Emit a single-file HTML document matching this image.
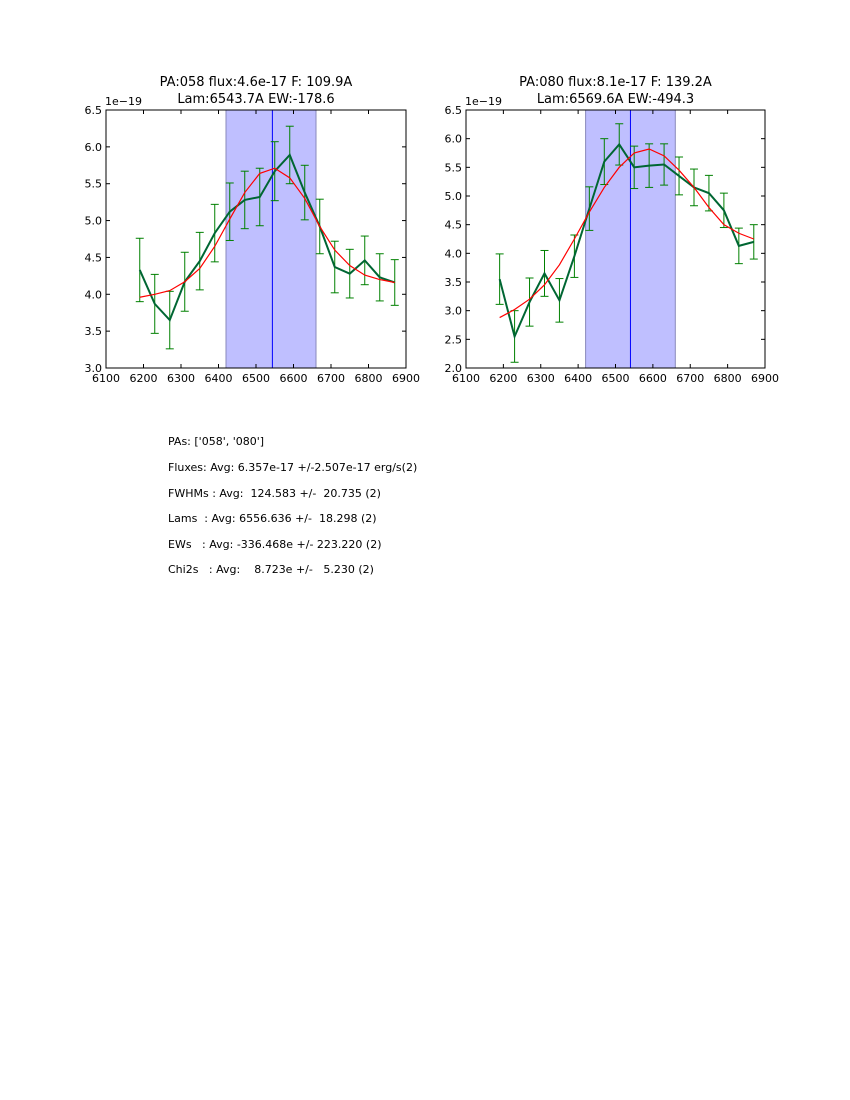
<!DOCTYPE html>
<html><head><meta charset="utf-8"><style>
body{margin:0;background:#fff;}
svg{display:block;font-family:"DejaVu Sans","Liberation Sans",sans-serif;}
</style></head><body>
<svg id="s" width="850" height="1100" viewBox="0 0 850 1100">
<rect width="850" height="1100" fill="#fff"/>
<g id="txt" font-size="11" fill="#000">
<text x="168" y="445" xml:space="preserve">PAs: ['058', '080']</text>
<text x="168" y="471" xml:space="preserve">Fluxes: Avg: 6.357e-17 +/-2.507e-17 erg/s(2)</text>
<text x="168" y="497" xml:space="preserve">FWHMs : Avg:  124.583 +/-  20.735 (2)</text>
<text x="168" y="522" xml:space="preserve">Lams  : Avg: 6556.636 +/-  18.298 (2)</text>
<text x="168" y="548" xml:space="preserve">EWs   : Avg: -336.468e +/- 223.220 (2)</text>
<text x="168" y="573" xml:space="preserve">Chi2s   : Avg:    8.723e +/-   5.230 (2)</text>
</g>
</svg>
<script>
const xs = [6190,6230,6270,6310,6350,6390,6430,6470,6510,6550,6590,6630,6670,6710,6750,6790,6830,6870];
const p1Data = [4.33,3.87,3.65,4.17,4.45,4.83,5.12,5.28,5.32,5.67,5.89,5.38,4.92,4.37,4.28,4.46,4.23,4.16];
const p1Err = [0.43,0.40,0.39,0.40,0.39,0.39,0.39,0.39,0.39,0.40,0.39,0.37,0.37,0.35,0.33,0.33,0.32,0.31];
const p1Fit = [3.96,4.00,4.05,4.17,4.35,4.65,5.02,5.38,5.64,5.71,5.58,5.30,4.92,4.60,4.39,4.26,4.20,4.16];
const p2Data = [3.55,2.55,3.15,3.65,3.18,3.95,4.78,5.60,5.90,5.50,5.53,5.55,5.35,5.15,5.05,4.75,4.13,4.20];
const p2Err = [0.44,0.45,0.42,0.40,0.38,0.37,0.38,0.40,0.36,0.37,0.38,0.36,0.33,0.32,0.31,0.30,0.31,0.30];
const p2Fit = [2.88,3.02,3.20,3.45,3.80,4.25,4.72,5.15,5.50,5.75,5.82,5.70,5.45,5.15,4.80,4.50,4.35,4.25];
const xTicks = [6100,6200,6300,6400,6500,6600,6700,6800,6900];
const p1YTicks = [3.0,3.5,4.0,4.5,5.0,5.5,6.0,6.5];
const p2YTicks = [2.0,2.5,3.0,3.5,4.0,4.5,5.0,5.5,6.0,6.5];
const panels = [
 {name:'pa058',left:106,right:406,top:110,bottom:368,ymin:3.0,ymax:6.5,yt:p1YTicks,d:p1Data,e:p1Err,f:p1Fit,
  t1:'PA:058 flux:4.6e-17 F: 109.9A',t2:'Lam:6543.7A EW:-178.6',band:[6420,6660],line:6543.7},
 {name:'pa080',left:466,right:765,top:110,bottom:368,ymin:2.0,ymax:6.5,yt:p2YTicks,d:p2Data,e:p2Err,f:p2Fit,
  t1:'PA:080 flux:8.1e-17 F: 139.2A',t2:'Lam:6569.6A EW:-494.3',band:[6420,6660],line:6540}
];
const NS='http://www.w3.org/2000/svg';
const svg=document.getElementById('s');
function mk(tag,attrs,parent){const el=document.createElementNS(NS,tag);for(const k in attrs)el.setAttribute(k,attrs[k]);(parent||svg).appendChild(el);return el;}
panels.forEach(p=>{
 const g=mk('g',{});
 
 
 const X=v=>p.left+(v-6100)/800*(p.right-p.left);
 const Y=v=>p.bottom-(v-p.ymin)/(p.ymax-p.ymin)*(p.bottom-p.top);
 const band=mk('rect',{x:X(p.band[0]),y:p.top,width:X(p.band[1])-X(p.band[0]),height:p.bottom-p.top,fill:'#bfbfff',stroke:'#8888bb','stroke-width':1},g);
 
 
 const vl=mk('line',{x1:X(p.line),x2:X(p.line),y1:p.top,y2:p.bottom,stroke:'#0000ff','stroke-width':1},g);
 
 
 // error bars
 xs.forEach((x,i)=>{
  const eb=mk('g',{stroke:'#008000','stroke-width':1},g);
  
  
  const cx=X(x),y1=Y(p.d[i]+p.e[i]),y2=Y(p.d[i]-p.e[i]);
  mk('line',{x1:cx,x2:cx,y1:y1,y2:y2},eb);
  mk('line',{x1:cx-4,x2:cx+4,y1:y1,y2:y1},eb);
  mk('line',{x1:cx-4,x2:cx+4,y1:y2,y2:y2},eb);
 });
 const dl=mk('polyline',{points:xs.map((x,i)=>X(x)+','+Y(p.d[i])).join(' '),fill:'none',stroke:'#006633','stroke-width':2},g);
 
 
 const fl=mk('polyline',{points:xs.map((x,i)=>X(x)+','+Y(p.f[i])).join(' '),fill:'none',stroke:'#ff0000','stroke-width':1.2},g);
 
 
 const fr=mk('rect',{x:p.left,y:p.top,width:p.right-p.left,height:p.bottom-p.top,fill:'none',stroke:'#000','stroke-width':1},g);
 
 
 xTicks.forEach(t=>{
  const x=X(t);
  mk('line',{x1:x,x2:x,y1:p.bottom,y2:p.bottom-4,stroke:'#000'},g);
  mk('line',{x1:x,x2:x,y1:p.top,y2:p.top+4,stroke:'#000'},g);
  const tl=mk('text',{x:x,y:p.bottom+14,'font-size':11,'text-anchor':'middle'},g);
  tl.textContent=t;
  
  
 });
 p.yt.forEach(t=>{
  const y=Y(t);
  mk('line',{x1:p.left,x2:p.left+4,y1:y,y2:y,stroke:'#000'},g);
  mk('line',{x1:p.right,x2:p.right-4,y1:y,y2:y,stroke:'#000'},g);
  const tl=mk('text',{x:p.left-4,y:y+4,'font-size':11,'text-anchor':'end'},g);
  tl.textContent=t.toFixed(1);
  
  
 });
 const off=mk('text',{x:p.left-1,y:p.top-5,'font-size':11},g);
 off.textContent='1e\u221219';
 
 
 const cx=(p.left+p.right)/2;
 const t1=mk('text',{x:cx,y:86,'font-size':13,'text-anchor':'middle'},g);
 t1.textContent=p.t1;
 
 
 const t2=mk('text',{x:cx,y:103,'font-size':13,'text-anchor':'middle'},g);
 t2.textContent=p.t2;
 
 
});
</script>
</body></html>
